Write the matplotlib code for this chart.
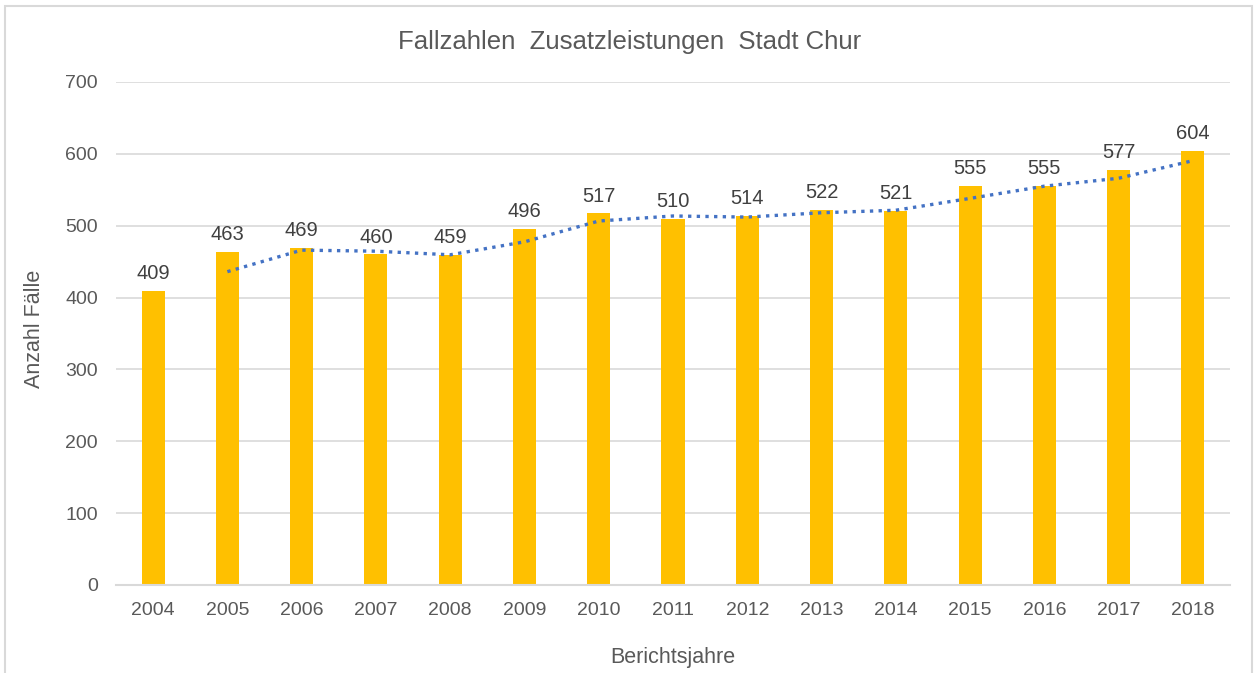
import numpy as np
import matplotlib.pyplot as plt
from matplotlib.patches import Rectangle

plt.rcParams['font.family'] = ['Liberation Sans', 'DejaVu Sans']

# Data
years = ['2004', '2005', '2006', '2007', '2008', '2009', '2010', '2011',
         '2012', '2013', '2014', '2015', '2016', '2017', '2018']
cases = [409, 463, 469, 460, 459, 496, 517, 510, 514, 522, 521, 555, 555, 577, 604]
# dotted trend line (2-period moving average as shown), starts at 2005
trend = [np.nan, 436, 466, 464.5, 459.5, 477.5, 506.5, 513.5, 512, 518,
         521.5, 538, 555, 566, 590.5]

text_col = '#595959'

fig = plt.figure(figsize=(12.59, 6.73), dpi=100)
ax = fig.add_axes([0.0921, 0.1308, 0.8849, 0.7474])

x = np.arange(len(years))
ax.bar(x, cases, width=0.31, color='#FFC000', zorder=2)
ax.plot(x, trend, color='#4472C4', linestyle=(0, (1, 1.6)), linewidth=2.4,
        zorder=3)

for xi, v in zip(x, cases):
    ax.text(xi, v + 11, str(v), ha='center', va='bottom', fontsize=14.5,
            color='#404040')

ax.set_xlim(-0.5, len(years) - 0.5)
ax.set_ylim(0, 700)
ax.set_yticks(range(0, 701, 100))
ax.set_xticks(x)
ax.set_xticklabels(years)
ax.tick_params(axis='both', length=0, labelsize=14, labelcolor=text_col)
ax.tick_params(axis='x', pad=12)
ax.tick_params(axis='y', pad=13)
ax.grid(axis='y', color='#D9D9D9', linewidth=1.2, zorder=0)
for s in ['top', 'right', 'left']:
    ax.spines[s].set_visible(False)
ax.spines['bottom'].set_color('#D9D9D9')
ax.spines['bottom'].set_linewidth(1.5)

fig.text(673 / 1259, 1 - 658 / 673, 'Berichtsjahre', ha='center',
         va='center', fontsize=15.5, color=text_col)
fig.text(35 / 1259, 1 - 329 / 673, 'Anzahl Fälle', ha='center',
         va='center', rotation=90, fontsize=15.5, color=text_col)
fig.text(0.5, 0.937, 'Fallzahlen  Zusatzleistungen  Stadt Chur',
         ha='center', va='center', fontsize=18.5, color=text_col)

# outer chart border
fig.patches.append(Rectangle((5 / 1259, -0.05), 1247 / 1259, 1.05 - 6 / 673,
                             transform=fig.transFigure, fill=False,
                             edgecolor='#D9D9D9', linewidth=1.5))

fig.savefig('out.png', dpi=100)
